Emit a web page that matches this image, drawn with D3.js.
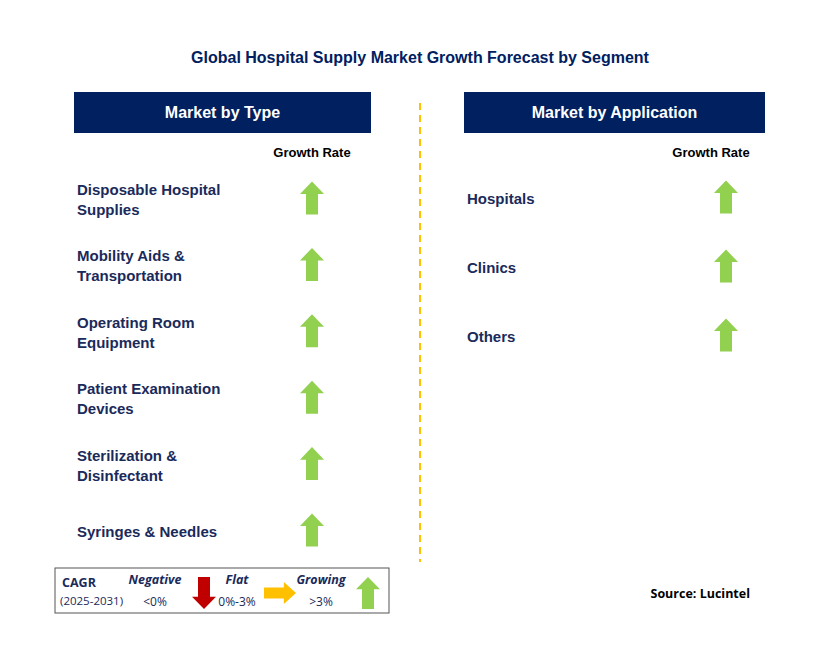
<!DOCTYPE html>
<html><head><meta charset="utf-8">
<script src="https://cdn.jsdelivr.net/npm/d3@7"></script>
<style>body{margin:0;background:#fff}</style></head>
<body><svg id="c" width="829" height="662"></svg>
<script>
const title = "Global Hospital Supply Market Growth Forecast by Segment";
const typeCategories = [["Disposable Hospital","Supplies"],["Mobility Aids &","Transportation"],["Operating Room","Equipment"],["Patient Examination","Devices"],["Sterilization &","Disinfectant"],["Syringes & Needles"]];
const typeGrowth = ["up","up","up","up","up","up"];
const appCategories = [["Hospitals"],["Clinics"],["Others"]];
const appGrowth = ["up","up","up"];
const legendItems = [{label:"Negative",range:"<0%",dir:"down"},{label:"Flat",range:"0%-3%",dir:"right"},{label:"Growing",range:">3%",dir:"up"}];

const svg = d3.select("#c");
const navy = "#002060", txt = "#1a2a5a";
const colors = {up:"#92d050", down:"#c00000", right:"#ffc000"};
svg.append("text").attr("x",420).attr("y",63).attr("text-anchor","middle")
  .attr("font-family","Liberation Sans, Arial").attr("font-weight","bold").attr("font-size",16).attr("fill",navy).text(title);

function arrow(g, dir, cx, cy, w, h){
  const hw=w/2, sw=w/4, hh=h*0.38;
  const p = `M0,${-h/2} L${hw},${-h/2+hh} L${sw},${-h/2+hh} L${sw},${h/2} L${-sw},${h/2} L${-sw},${-h/2+hh} L${-hw},${-h/2+hh} Z`;
  const rot = dir==="up"?0:dir==="down"?180:90;
  g.append("path").attr("d",p).attr("fill",colors[dir]).attr("transform",`translate(${cx},${cy}) rotate(${rot})`);
}

function panel(x0, width, header, cats, growth, rowY, arrowX, labelX, grX){
  svg.append("rect").attr("x",x0).attr("y",92).attr("width",width).attr("height",41).attr("fill",navy);
  svg.append("text").attr("x",x0+width/2).attr("y",118).attr("text-anchor","middle").attr("fill","#fff")
    .attr("font-family","Liberation Sans, Arial").attr("font-weight","bold").attr("font-size",16).text(header);
  svg.append("text").attr("x",grX).attr("y",157).attr("text-anchor","middle").attr("fill","#000")
    .attr("font-family","Liberation Sans, Arial").attr("font-weight","bold").attr("font-size",13).text("Growth Rate");
  cats.forEach((lines,i)=>{
    const cy=rowY(i);
    const t=svg.append("text").attr("x",labelX).attr("font-family","Liberation Sans, Arial").attr("font-weight","bold")
      .attr("font-size",15).attr("fill",txt);
    lines.forEach((l,j)=>t.append("tspan").attr("x",labelX).attr("y",cy+5+(j-(lines.length-1)/2)*20).text(l));
    arrow(svg,growth[i],arrowX,cy-2,24,33);
  });
}
const yL = d3.scalePoint().domain(d3.range(6)).range([200,532]);
const yR = d3.scalePoint().domain(d3.range(3)).range([199,337]);
panel(74,297,"Market by Type",typeCategories,typeGrowth,i=>yL(i),312,77,312);
panel(464,301,"Market by Application",appCategories,appGrowth,i=>yR(i),726,467,711);

svg.append("line").attr("x1",420).attr("x2",420).attr("y1",103).attr("y2",562)
  .attr("stroke","#ffc000").attr("stroke-width",2).attr("stroke-dasharray","7,5");

svg.append("rect").attr("x",55).attr("y",568).attr("width",334).attr("height",45).attr("fill","#fff").attr("stroke","#555").attr("stroke-width",1);
const lf="Open Sans, sans-serif";
svg.append("text").attr("x",62).attr("y",587).attr("font-family",lf).attr("font-weight","bold").attr("font-size",12.5).attr("fill",txt).text("CAGR");
svg.append("text").attr("x",60).attr("y",605).attr("font-family",lf).attr("font-size",11.5).attr("fill",txt).text("(2025-2031)");
const lx=[155,237,321], ax=[204,280,368];
legendItems.forEach((d,i)=>{
  svg.append("text").attr("x",lx[i]).attr("y",584).attr("text-anchor","middle").attr("font-family",lf).attr("font-style","italic").attr("font-weight","bold").attr("font-size",12.5).attr("fill",txt).text(d.label);
  svg.append("text").attr("x",lx[i]).attr("y",606).attr("text-anchor","middle").attr("font-family",lf).attr("font-size",12).attr("fill",txt).text(d.range);
  arrow(svg,d.dir,ax[i],593,d.dir==="right"?22:24,32);
});
svg.append("text").attr("x",750).attr("y",598).attr("text-anchor","end").attr("font-family",lf).attr("font-weight","bold").attr("font-size",12.5).attr("fill","#000").text("Source: Lucintel");
</script></body></html>
